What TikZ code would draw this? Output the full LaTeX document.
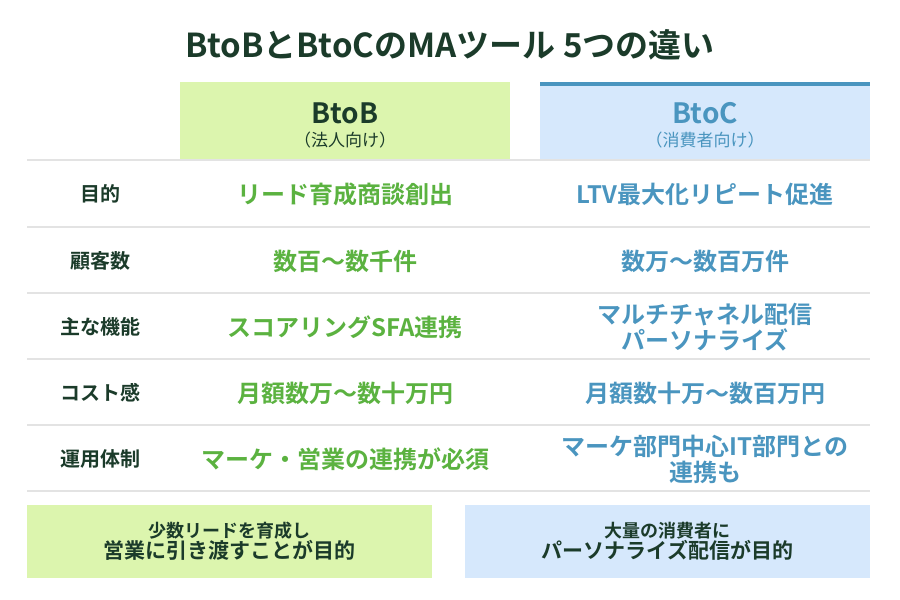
\documentclass[tikz,border=0pt]{standalone}
\usepackage{fontspec}
\setmainfont{Noto Sans CJK JP}[BoldFont={* Bold}]
\definecolor{dgreen}{HTML}{1B3B2A}
\definecolor{lgreen}{HTML}{5BB240}
\definecolor{fgreen}{HTML}{DCF5AE}
\definecolor{lblue}{HTML}{4A95BF}
\definecolor{fblue}{HTML}{D6E8FC}
\definecolor{rule}{HTML}{E3E3E3}
\tikzset{
  rowlbl/.style={font=\fontsize{20}{24}\selectfont\bfseries, text=dgreen},
  bcell/.style={font=\fontsize{24}{26}\selectfont\bfseries, text=lgreen, align=center},
  ccell/.style={font=\fontsize{24}{26}\selectfont\bfseries, text=lblue, align=center},
}
\begin{document}
\begin{tikzpicture}[x=1pt,y=-1pt]
\useasboundingbox (0,0) rectangle (900,600);
\node (title) at (450,45) [font=\fontsize{33}{36}\selectfont\bfseries, text=dgreen] {BtoBとBtoCのMAツール 5つの違い};
% header
\fill[fgreen] (180,82) rectangle (510,160);
\fill[fblue] (540,83) rectangle (870,160);
\fill[lblue] (540,82) rectangle (870,86);
\node (hb) at (345,113) [font=\fontsize{28}{32}\selectfont\bfseries, text=dgreen] {BtoB};
\node (hbs) at (345,140) [font=\fontsize{17}{20}\selectfont, text=dgreen] {（法人向け）};
\node (hc) at (705,113) [font=\fontsize{28}{32}\selectfont\bfseries, text=lblue] {BtoC};
\node (hcs) at (705,140) [font=\fontsize{17}{20}\selectfont, text=lblue] {（消費者向け）};
% rules
\foreach \y in {160,227,293,359,425,491}
  \draw[rule, line width=1.2pt] (27,\y) -- (870,\y);
% rows
\node (r1) at (100,194) [rowlbl] {目的};
\node (b1) at (345,194) [bcell] {リード育成商談創出};
\node (c1) at (705,194) [ccell] {LTV最大化リピート促進};
\node (r2) at (100,261) [rowlbl] {顧客数};
\node (b2) at (345,261) [bcell] {数百〜数千件};
\node (c2) at (705,261) [ccell] {数万〜数百万件};
\node (r3) at (100,327) [rowlbl] {主な機能};
\node (b3) at (345,327) [bcell] {スコアリングSFA連携};
\node (c3) at (705,327) [ccell] {マルチチャネル配信\\パーソナライズ};
\node (r4) at (100,393) [rowlbl] {コスト感};
\node (b4) at (345,393) [bcell] {月額数万〜数十万円};
\node (c4) at (705,393) [ccell] {月額数十万〜数百万円};
\node (r5) at (100,459) [rowlbl] {運用体制};
\node (b5) at (345,459) [bcell] {マーケ・営業の連携が必須};
\node (c5) at (705,459) [ccell] {マーケ部門中心IT部門との\\連携も};
% summary
\fill[fgreen] (27,505) rectangle (432,578);
\fill[fblue] (465,505) rectangle (870,578);
\node (sb) at (229.5,541) [align=center, text=dgreen, font=\bfseries] {{\fontsize{18}{26}\selectfont 少数リードを育成し}\\{\fontsize{21}{28}\selectfont 営業に引き渡すことが目的}};
\node (sc) at (667.5,541) [align=center, text=dgreen, font=\bfseries] {{\fontsize{18}{26}\selectfont 大量の消費者に}\\{\fontsize{21}{28}\selectfont パーソナライズ配信が目的}};
\end{tikzpicture}
\end{document}
